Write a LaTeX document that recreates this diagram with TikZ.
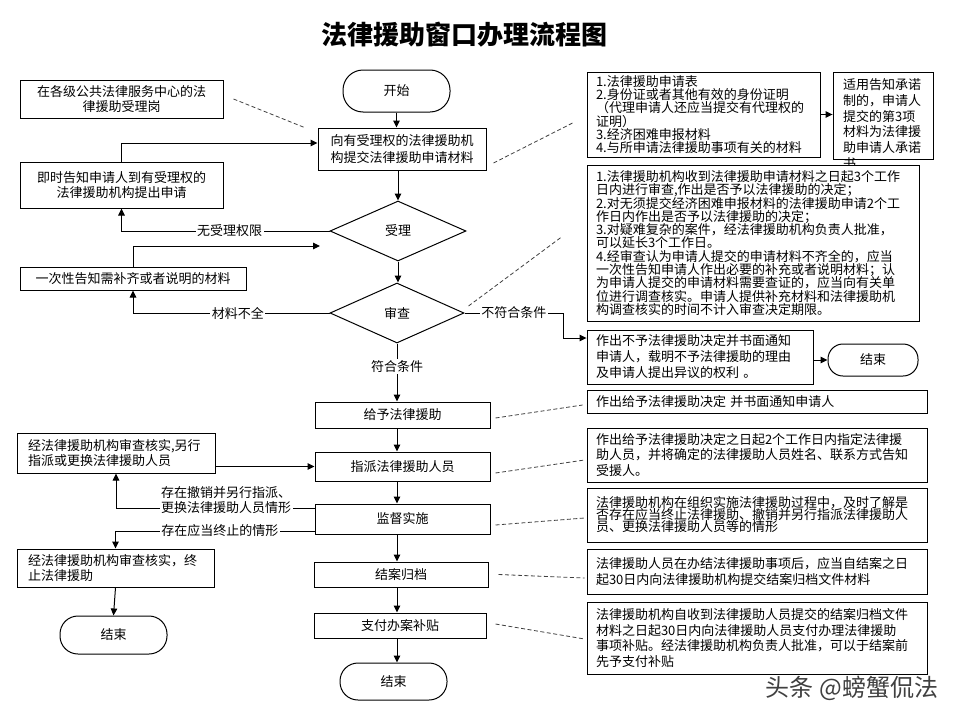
\documentclass[tikz,border=0pt]{standalone}
\usepackage{fontspec}
\setmainfont{Noto Sans CJK SC}
\usetikzlibrary{arrows.meta,shapes.geometric}
\newcommand\myfs[1]{\fontsize{13}{#1}\selectfont\lineskiplimit=-20pt\lineskip=0pt\relax}
\begin{document}
\begin{tikzpicture}[x=1pt,y=-1pt,
  box/.style={draw, line width=1pt, fill=white, inner sep=0pt, align=center, font=\myfs{16}},
  lbox/.style={draw, line width=1pt, fill=white, inner xsep=11pt, inner ysep=0pt, align=left, font=\myfs{15}},
  rbox/.style={draw, line width=0.9pt, fill=white, inner xsep=9pt, inner ysep=0pt, align=left},
  term/.style={draw, line width=1pt, fill=white, inner sep=0pt, font=\myfs{15}},
  dec/.style={draw, diamond, line width=1pt, fill=white, inner sep=0pt, font=\myfs{15}},
  arr/.style={line width=1pt, -{Triangle[length=7pt,width=6.5pt]}},
  dsh/.style={line width=0.8pt, dash pattern=on 4pt off 2.5pt, black!75},
  lab/.style={fill=white, inner sep=1.5pt, font=\myfs{15}},
]
\fill[white] (0,0) rectangle (960,720);
\useasboundingbox (0,0) rectangle (960,720);

% title
\node[font=\fontsize{26}{30}\selectfont\bfseries] (title) at (464,35) {法律援助窗口办理流程图};

% main column
\coordinate (col) at (397,0);
\node[term, minimum width=107pt, minimum height=42pt, rounded corners=20pt] (start) at (396.5,91) {开始};
\node[box, minimum width=168pt, minimum height=42pt, font=\myfs{17}] (apply) at (402,149) {向有受理权的法律援助机\\构提交法律援助申请材料};
\node[dec, minimum width=136pt, minimum height=60pt] (accept) at (398,231) {受理};
\node[dec, minimum width=134pt, minimum height=60pt] (review) at (397,313) {审查};
\node[box, minimum width=175pt, minimum height=26pt] (grant) at (402.5,415) {给予法律援助};
\node[box, minimum width=175pt, minimum height=29pt] (assign) at (402.5,466.5) {指派法律援助人员};
\node[box, minimum width=175pt, minimum height=30pt] (supervise) at (402.5,519) {监督实施};
\node[box, minimum width=174pt, minimum height=25pt] (archive) at (401,574.5) {结案归档};
\node[box, minimum width=172pt, minimum height=25pt] (pay) at (400,625.5) {支付办案补贴};
\node[term, minimum width=107pt, minimum height=37pt, rounded corners=18pt] (end1) at (393.5,681.5) {结束};

% left column
\node[box, minimum width=203pt, minimum height=38pt, font=\myfs{15}] (cbox) at (121.5,99) {在各级公共法律服务中心的法\\律援助受理岗};
\node[box, minimum width=203pt, minimum height=46pt, font=\myfs{15}] (notify) at (121.5,185) {即时告知申请人到有受理权的\\法律援助机构提出申请};
\node[box, minimum width=226pt, minimum height=23pt] (supp) at (133,278.5) {一次性告知需补齐或者说明的材料};
\node[lbox, text width=176pt, minimum height=40pt] (reassign) at (116,453) {经法律援助机构审查核实,另行\\指派或更换法律援助人员};
\node[lbox, text width=175pt, minimum height=38pt] (terminate) at (115.5,568) {经法律援助机构审查核实，终\\止法律援助};
\node[term, minimum width=107pt, minimum height=38pt, rounded corners=18pt] (end2) at (113.5,635) {结束};

% right column
\node[rbox, text width=215pt, minimum height=85pt, font=\myfs{13.2}] (r1) at (703.5,114.5) {1.法律援助申请表\\2.身份证或者其他有效的身份证明\\（代理申请人还应当提交有代理权的\\证明）\\3.经济困难申报材料\\4.与所申请法律援助事项有关的材料};
\node[draw, line width=0.9pt, fill=white, inner sep=0pt, minimum width=100pt, minimum height=87pt] (r2) at (883,115.5) {};
\node[anchor=north west, inner sep=0pt, align=left, font=\myfs{15.75}] (r2t) at (843,78.5) {适用告知承诺\\制的，申请人\\提交的第3项\\材料为法律援\\助申请人承诺\\书};
\node[rbox, text width=314pt, minimum height=156pt, font=\myfs{13.3}] (r3) at (753,243) {1.法律援助机构收到法律援助申请材料之日起3个工作\\日内进行审查,作出是否予以法律援助的决定；\\2.对无须提交经济困难申报材料的法律援助申请2个工\\作日内作出是否予以法律援助的决定；\\3.对疑难复杂的案件，经法律援助机构负责人批准，\\可以延长3个工作日。\\4.经审查认为申请人提交的申请材料不齐全的，应当\\一次性告知申请人作出必要的补充或者说明材料；认\\为申请人提交的申请材料需要查证的，应当向有关单\\位进行调查核实。申请人提供补充材料和法律援助机\\构调查核实的时间不计入审查决定期限。};
\node[rbox, text width=208pt, minimum height=54pt, font=\myfs{16}] (deny) at (700,357) {作出不予法律援助决定并书面通知\\申请人，载明不予法律援助的理由\\及申请人提出异议的权利 。};
\node[term, minimum width=90pt, minimum height=32pt, rounded corners=15pt] (end3) at (873,360) {结束};
\node[rbox, text width=322pt, minimum height=23pt, font=\myfs{15}] (r4) at (757,401.5) {作出给予法律援助决定 并书面通知申请人};
\node[rbox, text width=322pt, minimum height=54pt, font=\myfs{15.5}] (r5) at (757,455) {作出给予法律援助决定之日起2个工作日内指定法律援\\助人员，并将确定的法律援助人员姓名、联系方式告知\\受援人。};
\node[rbox, text width=322pt, minimum height=54pt, font=\myfs{12}] (r6) at (757,515) {法律援助机构在组织实施法律援助过程中，及时了解是\\否存在应当终止法律援助、撤销并另行指派法律援助人\\员、更换法律援助人员等的情形};
\node[rbox, text width=322pt, minimum height=45pt, font=\myfs{16}] (r7) at (757,571.5) {法律援助人员在办结法律援助事项后，应当自结案之日\\起30日内向法律援助机构提交结案归档文件材料};
\node[rbox, text width=322pt, minimum height=72pt, font=\myfs{15.5}] (r8) at (757,638) {法律援助机构自收到法律援助人员提交的结案归档文件\\材料之日起30日内向法律援助人员支付办理法律援助\\事项补贴。经法律援助机构负责人批准，可以于结案前\\先予支付补贴};

% main flow arrows
\draw[arr] (start.south) -- (start.south |- apply.north);
\draw[arr] (accept.north |- apply.south) -- (accept.north);
\draw[arr] (accept.south) -- (accept.south |- review.north);
\draw[arr] (review.south) -- node[lab, pos=0.39] (l3) {符合条件} (review.south |- grant.north);
\draw[arr] (grant.south -| col) -- (assign.north -| col);
\draw[arr] (assign.south -| col) -- (supervise.north -| col);
\draw[arr] (supervise.south -| col) -- (archive.north -| col);
\draw[arr] (archive.south -| col) -- (pay.north -| col);
\draw[arr] (pay.south -| col) -- (end1.north -| col);

% left side connectors
\draw[arr] (accept.west) -| node[lab, pos=0.24] (l1) {无受理权限} (notify.south);
\draw[arr] (notify.north) |- ([yshift=6pt]apply.west);
\draw[arr] (review.west) -| node[lab, pos=0.233] (l2) {材料不全} (supp.south);
\coordinate (suppin) at (320,246);
\draw[arr] (supp.north) |- (suppin);
\draw[arr] ([yshift=11pt]supervise.west) -| (reassign.south);
\node[lab, align=left, font=\myfs{15}] (l5) at (226,500.5) {存在撤销并另行指派、\\更换法律援助人员情形};
\draw[arr] ([yshift=-12pt]supervise.west) -| node[lab, pos=0.238] (l6) {存在应当终止的情形} (terminate.north);
\draw[arr] (reassign.east |- assign.west) -- (assign.west);
\draw[arr] (terminate.south) -- (end2.north);

% right side connectors
\coordinate (nc) at (563,313);
\draw[arr] (review.east) -- node[lab] (l4) {不符合条件} (nc) |- ([yshift=19pt]deny.west);
\draw[arr] (end3.west -| deny.east) -- (end3.west);
\draw[arr] (r1.east) -- (r1.east -| r2.west);

% dashed annotations
\draw[dsh] ([xshift=10pt]cbox.east) -- ([xshift=-13pt]apply.north west);
\draw[dsh] ([shift={(7pt,-14pt)}]apply.east) -- ([shift={(-12pt,-7.5pt)}]r1.west);
\draw[dsh] ([shift={(4pt,7pt)}]review.east) -- ([shift={(-25pt,6pt)}]r3.west);
\draw[dsh] ([shift={(5pt,-3pt)}]grant.east) -- ([shift={(-4pt,-3.5pt)}]r4.west);
\draw[dsh] ([shift={(5pt,-6.5pt)}]assign.east) -- ([shift={(-2pt,-5pt)}]r5.west);
\draw[dsh] ([shift={(5pt,-6pt)}]supervise.east) -- ([shift={(-2pt,-3pt)}]r6.west);
\draw[dsh] ([shift={(10pt,0pt)}]archive.east) -- ([shift={(-2pt,-6.5pt)}]r7.west);
\draw[dsh] ([shift={(9pt,1.5pt)}]pay.east) -- ([shift={(-2pt,-1pt)}]r8.west);

% watermark
\node[text=black!75, font=\fontsize{24}{28}\selectfont] (wm) at (852,688) {头条 @螃蟹侃法};
\end{tikzpicture}
\end{document}
